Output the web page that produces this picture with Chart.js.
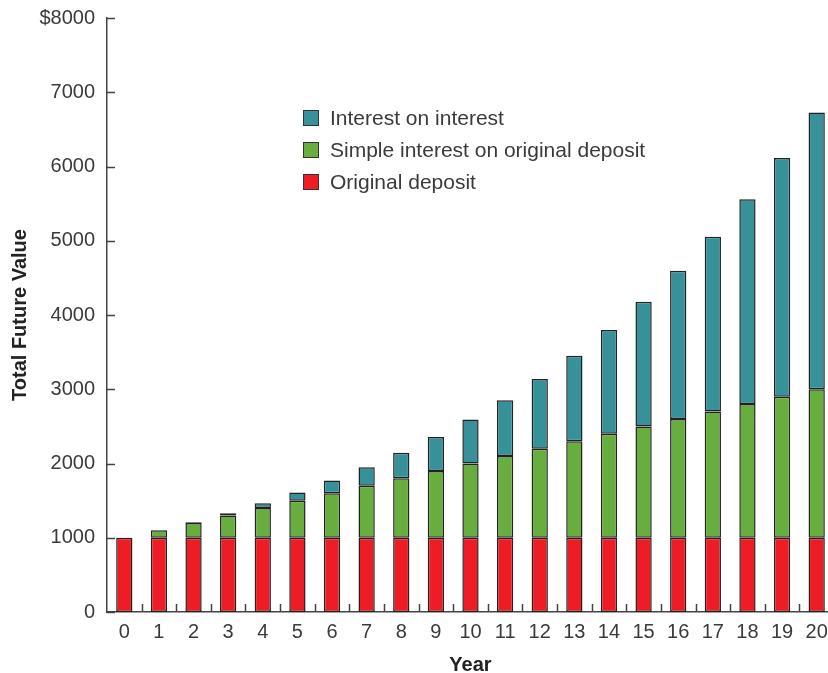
<!DOCTYPE html>
<html lang="en">
<head>
  <meta charset="UTF-8">
  <title>Total Future Value</title>
  <script src="https://cdn.jsdelivr.net/npm/chart.js"></script>
  <style>
    html, body { margin: 0; padding: 0; background: #fff; overflow: hidden; }
    #wrap { position: relative; width: 840px; height: 673px; }
    #legend { position: absolute; left: 303px; top: 103px; font-family: "Liberation Sans", Arial, sans-serif; font-size: 21px; color: #3a3a3a; }
    #legend div { height: 32px; line-height: 30px; white-space: nowrap; }
    #legend span.box { display: inline-block; width: 14px; height: 14px; border: 1px solid #333; margin-right: 11px; vertical-align: -1px; }
  </style>
</head>
<body>
  <div id="wrap">
    <canvas id="fvChart" width="840" height="673"></canvas>
    <div id="legend"></div>
  </div>

  <script>
    // years 0..20, $1000 at 10%
    const years = ['0','1','2','3','4','5','6','7','8','9','10','11','12','13','14','15','16','17','18','19','20'];
    const originalDeposit = [1000,1000,1000,1000,1000,1000,1000,1000,1000,1000,1000,1000,1000,1000,1000,1000,1000,1000,1000,1000,1000];
    const simpleInterest = [0,100,200,300,400,500,600,700,800,900,1000,1100,1200,1300,1400,1500,1600,1700,1800,1900,2000];
    const interestOnInterest = [0,0,10,31,64,111,172,249,344,458,594,753,938,1152,1397,1677,1995,2354,2760,3216,3727];

    const inkColor = '#3a3a3a';
    const axisColor = '#444';

    // little inward tick marks on both axes
    const innerTicks = {
      id: 'innerTicks',
      afterDatasetsDraw(chart) {
        const c = chart.ctx;
        const x = chart.scales.x, y = chart.scales.y;
        const area = chart.chartArea;
        c.save();
        c.strokeStyle = axisColor;
        c.lineWidth = 1.5;
        c.beginPath();
        y.ticks.forEach(t => {
          const py = Math.round(y.getPixelForValue(t.value)) + 0.5;
          c.moveTo(area.left, py);
          c.lineTo(area.left + 8, py);
        });
        for (let i = 0; i < years.length; i++) {
          const px = Math.round((x.getPixelForValue(i) + x.getPixelForValue(i + 1)) / 2) + 0.5;
          c.moveTo(px, area.bottom);
          c.lineTo(px, area.bottom - 8);
        }
        c.stroke();
        c.restore();
      }
    };

    const datasets = [
      { label: 'Original deposit', data: originalDeposit, backgroundColor: '#ee1d25' },
      { label: 'Simple interest on original deposit', data: simpleInterest, backgroundColor: '#67ae3e' },
      { label: 'Interest on interest', data: interestOnInterest, backgroundColor: '#379199' }
    ];
    datasets.forEach(d => {
      d.borderColor = '#222';
      d.borderWidth = 1.5;
      d.borderSkipped = false;
      d.barPercentage = 0.47;
      d.categoryPercentage = 1.0;
    });

    const ctx = document.getElementById('fvChart').getContext('2d');
    const fvChart = new Chart(ctx, {
      type: 'bar',
      data: { labels: years, datasets: datasets },
      options: {
        responsive: false,
        animation: false,
        layout: { padding: { top: 18, right: 6, left: 0, bottom: 0 } },
        plugins: { legend: { display: false }, tooltip: { enabled: false } },
        scales: {
          x: {
            stacked: true,
            grid: { display: false },
            border: { display: true, color: axisColor, width: 1.5 },
            ticks: { color: inkColor, padding: 0, font: { family: 'Liberation Sans', size: 20 }, maxRotation: 0 },
            title: { display: true, text: 'Year', color: '#222', padding: { top: 0, bottom: -4 }, font: { family: 'Liberation Sans', size: 20, weight: 'bold' } },
            afterFit: s => { s.height = 61; }
          },
          y: {
            stacked: true,
            min: 0, max: 8000,
            grid: { display: false },
            border: { display: true, color: axisColor, width: 1.5 },
            ticks: {
              stepSize: 1000, color: inkColor, padding: 4,
              font: { family: 'Liberation Sans', size: 20 },
              callback: v => v === 8000 ? '$8000' : String(v)
            },
            title: { display: true, text: 'Total Future Value', color: '#222', padding: { top: 8, bottom: 0 }, font: { family: 'Liberation Sans', size: 20, weight: 'bold' } },
            afterFit: s => { s.width = 107; s.paddingTop = 0; s.paddingBottom = 0; }
          }
        }
      },
      plugins: [innerTicks]
    });

    // legend, top series first
    const legend = document.getElementById('legend');
    datasets.slice().reverse().forEach(d => {
      const row = document.createElement('div');
      row.innerHTML = '<span class="box" style="background:' + d.backgroundColor + '"></span>' + d.label;
      legend.appendChild(row);
    });
  </script>
</body>
</html>
